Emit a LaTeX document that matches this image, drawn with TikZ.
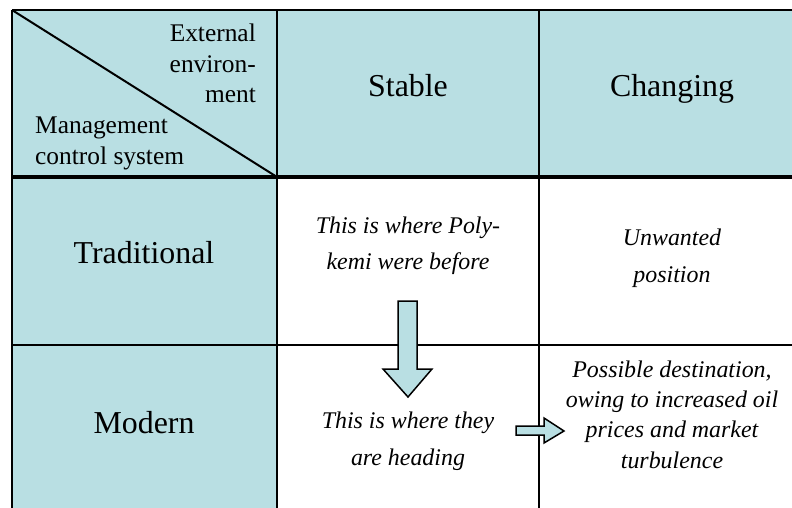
\documentclass[tikz,border=0pt]{standalone}
\usepackage{fontspec}
\setmainfont{Liberation Serif}
\definecolor{cellblue}{HTML}{B9DFE3}
\begin{document}
\begin{tikzpicture}[x=1bp,y=-1bp,
  rule/.style={line width=2bp, black},
  outer/.style={line width=2.6bp, black},
  heavy/.style={line width=4bp, black},
  headtext/.style={font=\fontsize{32}{38}\selectfont, anchor=base, inner sep=0pt},
  cornertext/.style={font=\fontsize{25.5}{31}\selectfont, anchor=base, inner sep=0pt},
  notetext/.style={font=\fontsize{24}{37}\selectfont\itshape, anchor=base, inner sep=0pt, align=center},
  blockarrow/.style={fill=cellblue, draw=black, line width=1.5bp, line join=miter}
]
\useasboundingbox (0,0) rectangle (792,508);
\clip (0,0) rectangle (792,508);

% shaded header row and first column
\fill[cellblue] (12,10) rectangle (810,177);
\fill[cellblue] (12,177) rectangle (277,520);

% grid lines
\draw[rule] (277,10) -- (277,520);
\draw[rule] (539,10) -- (539,520);
\draw[rule] (12,345) -- (810,345);
\draw[heavy] (12,177) -- (810,177);
\draw[outer] (12,10) -- (810,10);
\draw[outer] (12,10) -- (12,520);
\draw[rule] (12,10) -- (277,177);

% corner labels (multi-line nodes sit on the baseline of their last line)
\node[cornertext, anchor=base east, align=right] (env) at (256,103) {External\\environ-\\ment};
\node[cornertext, anchor=base west, align=left, font=\fontsize{25.5}{32}\selectfont] (mcs) at (35,165) {Management\\control system};

% column and row headings
\node[headtext] (stable) at (408,97) {Stable};
\node[headtext] (changing) at (672,97) {Changing};
\node[headtext] (trad) at (144,264) {Traditional};
\node[headtext] (modern) at (144,433) {Modern};

% cell notes
\node[notetext] (before) at (408,270) {This is where Poly-\\kemi were before};
\node[notetext, font=\fontsize{24}{38}\selectfont\itshape] (unwanted) at (672,283) {Unwanted\\position};
\node[notetext] (heading) at (408,465) {This is where they\\are heading};
\node[notetext, font=\fontsize{24}{30.3}\selectfont\itshape] (dest) at (672,468) {Possible destination,\\owing to increased oil\\prices and market\\turbulence};

% block arrows
\filldraw[blockarrow] (398,301) -- (417,301) -- (417,369) -- (432,369) -- (408,397)
  -- (383,369) -- (398,369) -- cycle;
\filldraw[blockarrow] (516,426) -- (544,426) -- (544,418) -- (564,431) -- (544,443)
  -- (544,435) -- (516,435) -- cycle;
\end{tikzpicture}
\end{document}
